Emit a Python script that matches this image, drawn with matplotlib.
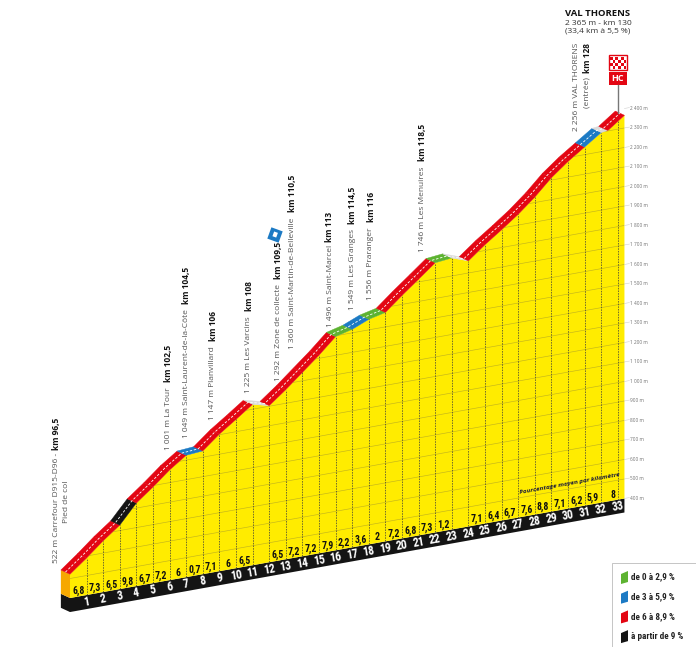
import numpy as np
import matplotlib
matplotlib.use("Agg")
import matplotlib.pyplot as plt
from matplotlib.patches import Polygon, Rectangle
from matplotlib.transforms import Affine2D, offset_copy
from matplotlib import font_manager

# ---------------------------------------------------------------
# Données du profil (km depuis le pied du col, altitude en m)
km_pts = [0, 1, 2, 3, 4, 5, 6, 7, 8, 9, 10, 11, 12, 13, 14, 15, 16, 17,
          18, 19, 20, 21, 22, 23, 24, 25, 26, 27, 28, 29, 30, 31, 32, 32.4, 33.4]
alt_pts = [522, 590, 663, 728, 826, 893, 965, 1025, 1032, 1103, 1163, 1225,
           1203, 1270, 1343, 1416, 1496, 1518, 1554, 1574, 1646, 1714, 1783,
           1792, 1762, 1830, 1891, 1955, 2028, 2112, 2180, 2239, 2298, 2302, 2365]
# classe de pente de chaque tronçon (g: 0-2,9 / b: 3-5,9 / r: 6-8,9 / k: >=9 / w: replat-descente)
seg_class = ['r', 'r', 'r', 'k', 'r', 'r', 'r', 'b', 'r', 'r', 'r', 'w',
             'r', 'r', 'r', 'r', 'g', 'b', 'g', 'r', 'r', 'r', 'g', 'w',
             'r', 'r', 'r', 'r', 'r', 'r', 'r', 'b', 'w', 'r']
# pourcentage moyen par kilomètre (km 1 à 33)
pct_labels = ["6,8", "7,3", "6,5", "9,8", "6,7", "7,2", "6", "0,7", "7,1", "6",
              "6,5", "", "6,5", "7,2", "7,2", "7,9", "2,2", "3,6", "2", "7,2",
              "6,8", "7,3", "1,2", "", "7,1", "6,4", "6,7", "7,6", "8,8", "7,1",
              "6,2", "5,9", "8"]
km_marks = list(range(1, 34))
alt_ticks = list(range(400, 2401, 100))
BASE = 400
FINISH_KM = 33.4

# points de passage (texte, km officiel)
waypoints = [
    ("522 m Carrefour D915-D96 - ", "km 96,5"),
    ("1 001 m La Tour  ", "km 102,5"),
    ("1 049 m Saint-Laurent-de-la-Côte  ", "km 104,5"),
    ("1 147 m Planvillard  ", "km 106"),
    ("1 225 m Les Varcins  ", "km 108"),
    ("1 292 m Zone de collecte  ", "km 109,5"),
    ("1 360 m Saint-Martin-de-Belleville  ", "km 110,5"),
    ("1 496 m Saint-Marcel ", "km 113"),
    ("1 549 m Les Granges  ", "km 114,5"),
    ("1 556 m Praranger  ", "km 116"),
    ("1 746 m Les Menuires  ", "km 118,5"),
]
# position (px) du pied de chaque étiquette verticale
wp_pos = [(56, 563), (168, 450), (187, 438), (213, 420), (249, 393), (278, 381),
          (292, 349), (330, 327), (353, 310), (371, 300), (422, 252)]

legend_items = [("g", "de 0 à 2,9 %"), ("b", "de 3 à 5,9 %"),
                ("r", "de 6 à 8,9 %"), ("k", "à partir de 9 %")]

COLORS = {'r': '#E30613', 'k': '#141414', 'b': '#1C7AC4', 'g': '#5DB331', 'w': '#DADADA'}
YELLOW = '#FFEC00'

# ---------------------------------------------------------------
W, H = 696, 647
PX_KM = 16.6          # pixels par km
PX_M = 0.195          # pixels par mètre
SHEAR = 2.98 / PX_M   # inclinaison de la base (m par km)
DX, DE = -0.55, 30    # profondeur 3D (km, m)

# police étroite pour les chiffres
names = {f.name for f in font_manager.fontManager.ttflist}
COND_KW = {'family': 'DejaVu Sans', 'stretch': 'condensed'}
for cand in ['Liberation Sans Narrow', 'Roboto Condensed', 'Open Sans Condensed']:
    if cand in names:
        COND_KW = {'family': cand}
        break

plt.rcParams['font.family'] = ['Open Sans', 'DejaVu Sans']

fig = plt.figure(figsize=(W / 100, H / 100), dpi=100)
ax = fig.add_axes([0, 0, 1, 1])
ax.set_xlim(-70 / PX_KM, (W - 70) / PX_KM)
ax.set_ylim(29 / PX_M, 676 / PX_M)
ax.axis('off')

shear = Affine2D(np.array([[1, 0, 0], [SHEAR, 1, 0], [0, 0, 1]]))
tr = shear + ax.transData
px = Affine2D().scale(1, -1).translate(0, H)   # pixels depuis le haut

km = np.array(km_pts, dtype=float)
alt = np.array(alt_pts, dtype=float)

# socle noir
strip = 72
ax.add_patch(Polygon([(DX, BASE - strip + DE), (0, BASE - strip), (FINISH_KM, BASE - strip),
                      (FINISH_KM, BASE), (0, BASE), (DX, BASE + DE)],
                     closed=True, fc='#141414', ec='none', transform=tr))
# face latérale
ax.add_patch(Polygon([(0, BASE), (0, alt[0]), (DX, alt[0] + DE), (DX, BASE + DE)],
                     closed=True, fc='#F6A800', ec='none', transform=tr))

# face jaune
face_xy = list(zip(km, alt)) + [(FINISH_KM, BASE), (0, BASE)]
face = Polygon(face_xy, closed=True, fc=YELLOW, ec='none', transform=tr)
ax.add_patch(face)

# quadrillage horizontal (100 m)
for e in alt_ticks[1:]:
    ln, = ax.plot([0, FINISH_KM], [e, e], color='#A89C2A', lw=0.45, alpha=0.7, transform=tr)
    ln.set_clip_path(face)
# quadrillage vertical (km)
for k in km_marks:
    if k < FINISH_KM:
        ax.plot([k, k], [BASE, np.interp(k, km, alt)], color='#3A3A3A', lw=0.5,
                dashes=(2.2, 1.6), transform=tr)

# bandeau supérieur colorié selon la pente
for i, c in enumerate(seg_class):
    k0, k1, a0, a1 = km[i], km[i + 1], alt[i], alt[i + 1]
    ax.add_patch(Polygon([(k0, a0), (k1, a1), (k1 + DX, a1 + DE), (k0 + DX, a0 + DE)],
                         closed=True, fc=COLORS[c], ec=COLORS[c], lw=0.3, transform=tr))
ax.plot(km + DX / 2, alt + DE / 2, color='white', lw=0.6, dashes=(3, 2), transform=tr)

# numéros de km sur le socle
for k in km_marks:
    ax.text(k, BASE - strip / 2, str(k), transform=tr, ha='center', va='center',
            rotation=10, color='white', fontsize=8.5, fontweight='bold', **COND_KW)

# pourcentages par km
bounds = [0] + km_marks[:-1] + [FINISH_KM]
for i, p in enumerate(pct_labels):
    c = (bounds[i] + bounds[i + 1]) / 2
    if p:
        ax.text(c, BASE + 30, p, transform=tr, ha='center', va='center',
                color='#111', fontsize=7, fontweight='bold', **COND_KW)
ax.text(30.1, 528, "Pourcentage moyen par kilomètre", transform=tr, ha='center',
        va='center', rotation=10.2, fontsize=4.6, fontweight='bold', style='italic',
        color='#1d1d3a')

# échelle d'altitude à droite
lab_tr = offset_copy(tr, fig=fig, x=6, y=0, units='dots')
for e in alt_ticks:
    ax.plot([FINISH_KM, FINISH_KM + 0.3], [e, e], color='#cfcfcf', lw=0.4, transform=tr)
    ax.text(FINISH_KM, e, f"{e:,}".replace(",", " ") + " m", transform=lab_tr,
            ha='left', va='center', fontsize=3.4, color='#707070')

# étiquettes verticales
renderer = fig.canvas.get_renderer()


def vlabel(x, y, name, kmtxt, top=False):
    kw = dict(transform=px, rotation=90, rotation_mode='anchor', va='center', fontsize=6)
    if not top:
        t = ax.text(x, y, name, ha='left', color='#555555', **kw)
        L = t.get_window_extent(renderer).height
        ax.text(x, y - L - 1, kmtxt, ha='left', color='#111111', fontweight='bold', **kw)
    else:
        t = ax.text(x, y, kmtxt, ha='right', color='#111111', fontweight='bold', **kw)
        L = t.get_window_extent(renderer).height
        ax.text(x, y + L + 2, name, ha='right', color='#555555', **kw)


for (name, kt), (x, y) in zip(waypoints, wp_pos):
    vlabel(x, y, name, kt)
ax.text(67, 523, "Pied de col", transform=px, rotation=90, rotation_mode='anchor',
        ha='left', va='center', fontsize=6, color='#555555')
ax.text(577, 43, "2 256 m VAL THORENS", transform=px, rotation=90, rotation_mode='anchor',
        ha='right', va='center', fontsize=6, color='#555555')
vlabel(587, 43, "(entrée) ", "km 128", top=True)

# icône zone de collecte
rot = Affine2D().rotate_deg_around(275, 235, 20) + px
ax.add_patch(Rectangle((269, 229), 12, 12, transform=rot, fc='#1C7AC4', ec='none'))
ax.add_patch(Rectangle((273, 232), 4, 5, transform=rot, fc='white', ec='none'))

# arrivée : titre, drapeau, HC
ax.text(598, 14, "VAL THORENS", transform=px, ha='center', va='center', fontsize=6.8,
        fontweight='bold', color='#111')
ax.text(598, 23.5, "2 365 m - km 130", transform=px, ha='center', va='center',
        fontsize=6, color='#333')
ax.text(598, 31.5, "(33,4 km à 5,5 %)", transform=px, ha='center', va='center',
        fontsize=6, color='#333')
ax.plot([618, 618], [85, 113], color='#777', lw=1, transform=px)
ax.add_patch(Rectangle((609, 55), 18, 15, transform=px, fc='white', ec='#E30613', lw=1))
for i in range(6):
    for j in range(4):
        if (i + j) % 2 == 0:
            ax.add_patch(Rectangle((610 + i * 2.7, 56.5 + j * 3), 2.7, 3, transform=px,
                                   fc='#E30613', ec='none'))
ax.add_patch(Rectangle((609, 72), 18, 13, transform=px, fc='#E30613', ec='none'))
ax.text(618, 78.8, "HC", transform=px, ha='center', va='center', fontsize=6.5,
        fontweight='bold', color='white')

# légende
ax.add_patch(Rectangle((614, 565), 90, 90, transform=px, fc='#e6e6e6', ec='none'))
ax.add_patch(Rectangle((612, 563), 90, 90, transform=px, fc='white', ec='#bbbbbb', lw=0.6))
for i, (c, lab) in enumerate(legend_items):
    yc = 577 + i * 19.7
    ax.add_patch(Polygon([(621, yc - 3), (628, yc - 6), (628, yc + 5), (621, yc + 7)],
                         closed=True, transform=px, fc=COLORS[c], ec='none'))
    ax.text(631, yc, lab, transform=px, ha='left', va='center', fontsize=6.6,
            fontweight='bold', color='#222', **COND_KW)

fig.savefig("out.png", dpi=100)
